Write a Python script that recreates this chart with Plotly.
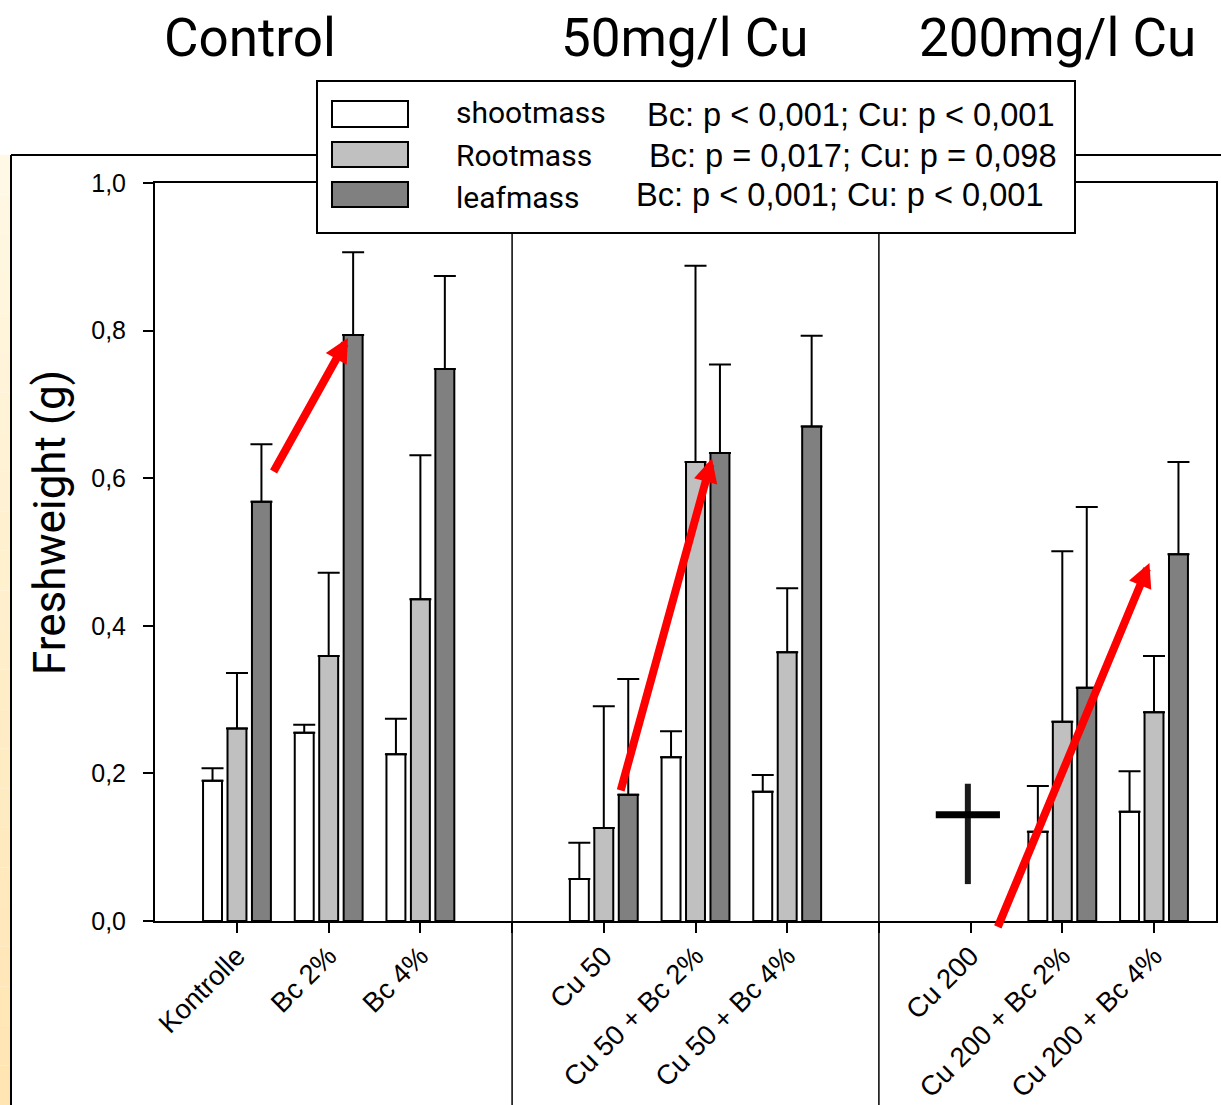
import plotly.graph_objects as go

# ---------------- data ----------------
categories = ["Kontrolle", "Bc 2%", "Bc 4%",
              "Cu 50", "Cu 50 + Bc 2%", "Cu 50 + Bc 4%",
              "Cu 200", "Cu 200 + Bc 2%", "Cu 200 + Bc 4%"]
group_titles = ["Control", "50mg/l Cu", "200mg/l Cu"]
series_names = ["shootmass", "Rootmass", "leafmass"]
stats_text = ["Bc: p < 0,001; Cu: p < 0,001",
              "Bc: p = 0,017; Cu: p = 0,098",
              "Bc: p < 0,001; Cu: p < 0,001"]
y_tick_vals = [0.0, 0.2, 0.4, 0.6, 0.8, 1.0]
y_tick_text = ["0,0", "0,2", "0,4", "0,6", "0,8", "1,0"]
y_title = "Freshweight (g)"

shoot_mean = [0.190, 0.255, 0.226, 0.057, 0.222, 0.175, None, 0.121, 0.148]
shoot_err = [0.017, 0.011, 0.048, 0.049, 0.035, 0.023, None, 0.062, 0.055]
root_mean = [0.261, 0.359, 0.436, 0.126, 0.622, 0.364, None, 0.270, 0.283]
root_err = [0.075, 0.113, 0.195, 0.165, 0.266, 0.087, None, 0.231, 0.076]
leaf_mean = [0.568, 0.794, 0.748, 0.171, 0.634, 0.670, None, 0.316, 0.497]
leaf_err = [0.078, 0.112, 0.126, 0.157, 0.120, 0.123, None, 0.245, 0.125]

# ---------------- styles ----------------
NARROW = "Roboto, Liberation Sans, sans-serif"
REG = "Liberation Sans, Arial, sans-serif"
fills = ["#ffffff", "#c0c0c0", "#808080"]

W, H = 1221, 1105
L, R, T, B = 155, 5, 183, 184
PW, PH = W - L - R, H - T - B


def px(xp):
    return (xp - L) / PW


def py(yp):
    return (H - B - yp) / PH


# slot positions: one empty slot between treatment groups
positions = [i + i // 3 for i in range(len(categories))]
sep_positions = [3, 7]
tick_vals = list(range(11))
tick_text = [""] * 11
for p, c in zip(positions, categories):
    tick_text[p] = c

fig = go.Figure()
for name, mean, err, col in zip(series_names, [shoot_mean, root_mean, leaf_mean],
                                [shoot_err, root_err, leaf_err], fills):
    fig.add_trace(go.Bar(
        x=positions, y=mean, name=name,
        marker=dict(color=col, line=dict(color="black", width=2)),
        error_y=dict(type="data", array=err, arrayminus=[0] * len(err), symmetric=False,
                     color="black", thickness=2, width=11),
        showlegend=False,
    ))

shapes = []
# beige strip (gradient) on the far left
n = 24
top, bot = 155, H
c0, c1 = (255, 248, 228), (255, 229, 178)
for k in range(n):
    t = k / (n - 1)
    col = "rgb(%d,%d,%d)" % tuple(round(a + (b - a) * t) for a, b in zip(c0, c1))
    y0 = top + (bot - top) * k / n
    y1 = top + (bot - top) * (k + 1) / n
    shapes.append(dict(type="rect", xref="paper", yref="paper", x0=px(0), x1=px(10),
                       y0=py(y0), y1=py(y1), fillcolor=col, line=dict(width=0), layer="below"))
# outer frame lines
shapes.append(dict(type="line", xref="paper", yref="paper", x0=px(11), x1=px(11),
                   y0=py(155), y1=py(H), line=dict(color="black", width=2)))
shapes.append(dict(type="line", xref="paper", yref="paper", x0=px(11), x1=px(W),
                   y0=py(155), y1=py(155), line=dict(color="black", width=2)))
# group separators
for s in sep_positions:
    shapes.append(dict(type="line", xref="x", yref="paper", x0=s, x1=s, y0=1, y1=py(H),
                       line=dict(color="black", width=1.5)))
# cross for dead plants (Cu 200)
cx = positions[categories.index("Cu 200")] - 0.03
shapes.append(dict(type="line", xref="x", yref="y", x0=cx, x1=cx, y0=0.05, y1=0.186,
                   line=dict(color="#1a1a1a", width=6)))
shapes.append(dict(type="line", xref="x", yref="y", x0=cx - 0.35, x1=cx + 0.35, y0=0.144, y1=0.144,
                   line=dict(color="black", width=7)))
# legend box
shapes.append(dict(type="rect", xref="paper", yref="paper", x0=px(317), x1=px(1075),
                   y0=py(233), y1=py(81), fillcolor="white", line=dict(color="black", width=2),
                   layer="above"))
sw_rows = [(101, 127), (142, 167), (182, 207)]
for (a, b), col in zip(sw_rows, fills):
    shapes.append(dict(type="rect", xref="paper", yref="paper", x0=px(332), x1=px(408),
                       y0=py(b), y1=py(a), fillcolor=col, line=dict(color="black", width=2),
                       layer="above"))

annotations = []
# group titles
for txt, xc in zip(group_titles, [250, 684, 1057]):
    annotations.append(dict(text=txt, xref="paper", yref="paper", x=px(xc), y=py(38),
                            xanchor="center", yanchor="middle", showarrow=False,
                            font=dict(family=NARROW, size=53, color="black")))
# legend texts
for txt, yc in zip(series_names, [112, 155, 197]):
    annotations.append(dict(text=txt, xref="paper", yref="paper", x=px(454), y=py(yc),
                            xanchor="left", yanchor="middle", showarrow=False,
                            font=dict(family=NARROW, size=30, color="black")))
for txt, xc, yc in zip(stats_text, [851, 853, 840], [115, 155, 194]):
    annotations.append(dict(text=txt, xref="paper", yref="paper", x=px(xc), y=py(yc),
                            xanchor="center", yanchor="middle", showarrow=False,
                            font=dict(family=REG, size=32.6, color="black")))
# y title
annotations.append(dict(text=y_title, xref="paper", yref="paper", x=px(50), y=py(523),
                        xanchor="center", yanchor="middle", textangle=-90, showarrow=False,
                        font=dict(family=NARROW, size=44, color="black")))
# red arrows (tail -> tip)
arrows = [((0.39, 0.607), (1.21, 0.790)),
          ((4.18, 0.175), (5.18, 0.627)),
          ((8.29, -0.010), (9.95, 0.485))]
for (tx, ty), (hx, hy) in arrows:
    annotations.append(dict(text="", xref="x", yref="y", x=hx, y=hy, ax=tx, ay=ty,
                            axref="x", ayref="y", showarrow=True, arrowhead=2,
                            arrowsize=0.6, arrowwidth=8, arrowcolor="#ff0000"))

fig.update_layout(
    width=W, height=H, autosize=False,
    margin=dict(l=L, r=R, t=T, b=B, pad=0),
    paper_bgcolor="white", plot_bgcolor="white",
    barmode="group", bargap=0.2, bargroupgap=0.225,
    shapes=shapes, annotations=annotations,
    xaxis=dict(range=[-0.894, 10.676], tickmode="array", tickvals=tick_vals, ticktext=tick_text,
               tickangle=-45, ticks="outside", ticklen=10, tickwidth=2, tickcolor="black",
               ticklabelstandoff=-4,
               showline=True, linewidth=2, linecolor="black", mirror=True,
               showgrid=False, zeroline=False, automargin=False,
               tickfont=dict(family=REG, size=27.5, color="black")),
    yaxis=dict(range=[0, 1], tickmode="array", tickvals=y_tick_vals, ticktext=y_tick_text,
               ticks="outside", ticklen=10, tickwidth=2, tickcolor="black",
               ticklabelstandoff=12, automargin=False,
               showline=True, linewidth=2, linecolor="black", mirror=True,
               showgrid=False, zeroline=False,
               tickfont=dict(family=REG, size=25, color="black")),
)

fig.write_html("out.html", config={"displayModeBar": False},
               post_script="document.body.style.margin='0px';")
